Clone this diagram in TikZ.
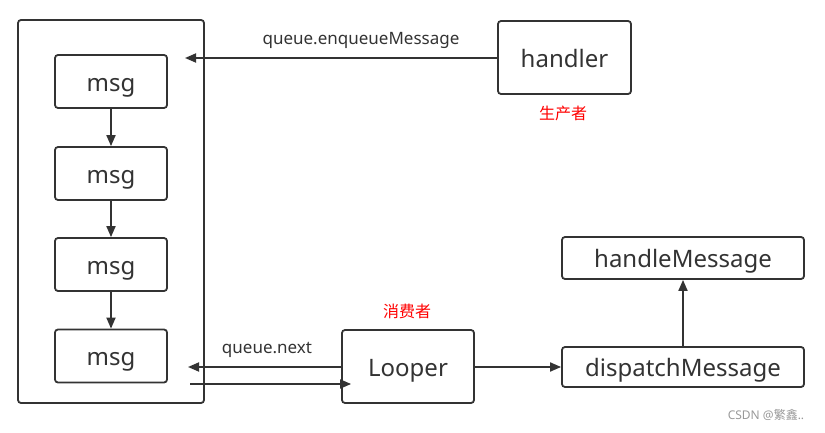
\documentclass[tikz,border=0pt]{standalone}
\usepackage{fontspec}
\setmainfont{Noto Sans}
\newfontfamily\cjk{Noto Sans CJK SC}
\usetikzlibrary{calc,arrows.meta}

\definecolor{ink}{HTML}{333333}
\tikzset{
    box/.style={draw=ink, line width=1.8pt, rounded corners=3pt, text=ink, font=\fontsize{24}{27}\selectfont,
        inner sep=0pt, text height=19.6pt, text depth=0pt},
    link/.style={draw=ink, line width=1.8pt, -{Triangle[length=11pt,width=9pt]}},
    tag/.style={text=red, font=\cjk\fontsize{16}{18}\selectfont},
    lbl/.style={text=ink, font=\fontsize{17}{19}\selectfont}
}

\begin{document}
\begin{tikzpicture}[x=1pt, y=-1pt]
    \useasboundingbox (0,0) rectangle (825,433);
    % message queue
    \node[box, minimum width=186pt, minimum height=383pt] (queue) at (111,211.5) {};
    \foreach \i/\y in {1/81.5, 2/173.5, 3/264.5, 4/356} {
        \node[box, minimum width=112pt, minimum height=53pt] (msg\i) at (111,\y) {msg};
    }
    \draw[link] (msg1) -- (msg2);
    \draw[link] (msg2) -- (msg3);
    \draw[link] (msg3) -- (msg4);

    % producer
    \node[box, minimum width=133pt, minimum height=73pt] (handler) at (564.5,57.5) {handler};
    \node[tag] (producer) at (563,113) {生产者};
    \coordinate (enq) at (185,58);
    \draw[link] (handler.west |- enq) -- (enq);
    \node[lbl] (enqlabel) at (361,40) {queue.enqueueMessage};

    % consumer
    \node[box, minimum width=132pt, minimum height=73pt] (looper) at (408,366.5) {Looper};
    \node[tag] (consumer) at (407,311) {消费者};
    \coordinate (next) at (188,367);
    \draw[link] (looper.west |- next) -- (next);
    \node[lbl] (nextlabel) at (267,350) {queue.next};
    \coordinate (back) at (190,384);
    \draw[link, shorten >=-10pt] (back) -- (back -| looper.west);

    % dispatch
    \node[box, minimum width=242pt, minimum height=40pt] (dispatch) at (683,367) {dispatchMessage};
    \node[box, minimum width=242pt, minimum height=42pt] (handle) at (683,258) {handleMessage};
    \draw[link] (looper.east |- dispatch) -- (dispatch.west);
    \draw[link] (dispatch) -- (handle);

    \node[text=black!40, font=\fontsize{12}{14}\selectfont] (mark) at (766,415) {CSDN @{\cjk 繁鑫}..};
\end{tikzpicture}
\end{document}
